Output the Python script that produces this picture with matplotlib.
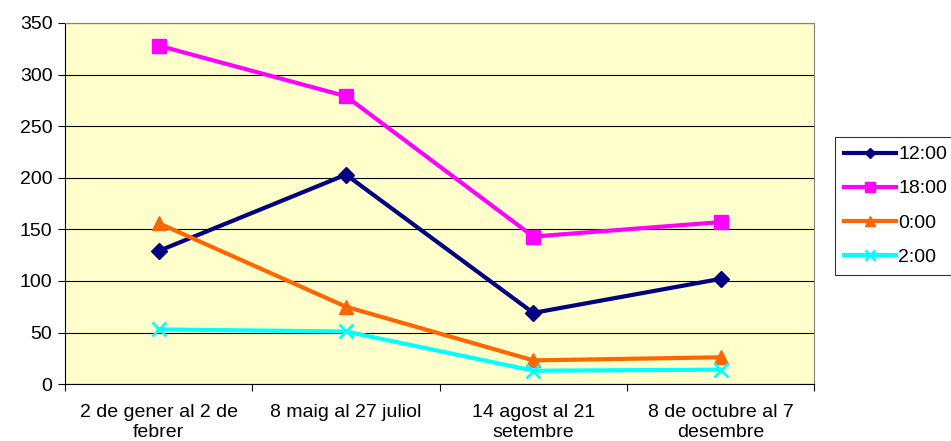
import matplotlib
matplotlib.use("Agg")
import matplotlib.pyplot as plt
import numpy as np

plt.rcParams['font.family'] = ['Liberation Sans', 'DejaVu Sans']

categories = ["2 de gener al 2 de\nfebrer", "8 maig al 27 juliol",
              "14 agost al 21\nsetembre", "8 de octubre al 7\ndesembre"]
s1200 = [129, 203, 69, 102]
s1800 = [328, 279, 143, 157]
s0000 = [156, 75, 23, 26]
s0200 = [53, 51, 13, 14]

series = [
    ("12:00", s1200, "#000080", "D", 8),
    ("18:00", s1800, "#FF00FF", "s", 10),
    ("0:00", s0000, "#FF6600", "^", 10),
    ("2:00", s0200, "#00FFFF", "x", 10),
]

fs = 14

fig = plt.figure(figsize=(9.51, 4.41), dpi=100)
ax = fig.add_axes([0.0683, 0.129, 0.788, 0.819])
ax.set_facecolor("#FFFFCC")

x = np.arange(len(categories))
for name, vals, col, mk, ms in series:
    ax.plot(x, vals, color=col, lw=3, marker=mk, markersize=ms,
            markeredgewidth=2 if mk == "x" else 1, markeredgecolor=col,
            label=name, zorder=3)

ax.set_xlim(-0.5, len(categories) - 0.5)
ax.set_ylim(0, 350)
ax.set_yticks(np.arange(0, 351, 50))
ax.yaxis.grid(True, color="black", lw=0.8)
ax.set_axisbelow(True)
ax.set_xticks(np.arange(-0.5, len(categories), 1.0))
ax.set_xticklabels([])
ax.set_xticks(x, minor=True)
ax.set_xticklabels(categories, minor=True, fontsize=fs, linespacing=1.3)
ax.tick_params(axis="x", which="minor", length=0, pad=14)
ax.tick_params(axis="x", which="major", length=5, color="black", direction="out")
ax.tick_params(axis="y", length=5, color="black", labelsize=fs, direction="out", pad=4)
for side in ["top", "right"]:
    ax.spines[side].set_color("#808080")
for side in ["left", "bottom"]:
    ax.spines[side].set_color("black")

leg = fig.legend(loc="upper left", bbox_to_anchor=(835 / 951, 1 - 137 / 441),
                 frameon=True, fancybox=False, edgecolor="black",
                 fontsize=fs, handlelength=2.7, borderpad=0.45,
                 labelspacing=0.85, handletextpad=0.1, borderaxespad=0,
                 markerscale=0.7)
leg.get_frame().set_linewidth(0.8)

fig.savefig("out.png", dpi=100)
